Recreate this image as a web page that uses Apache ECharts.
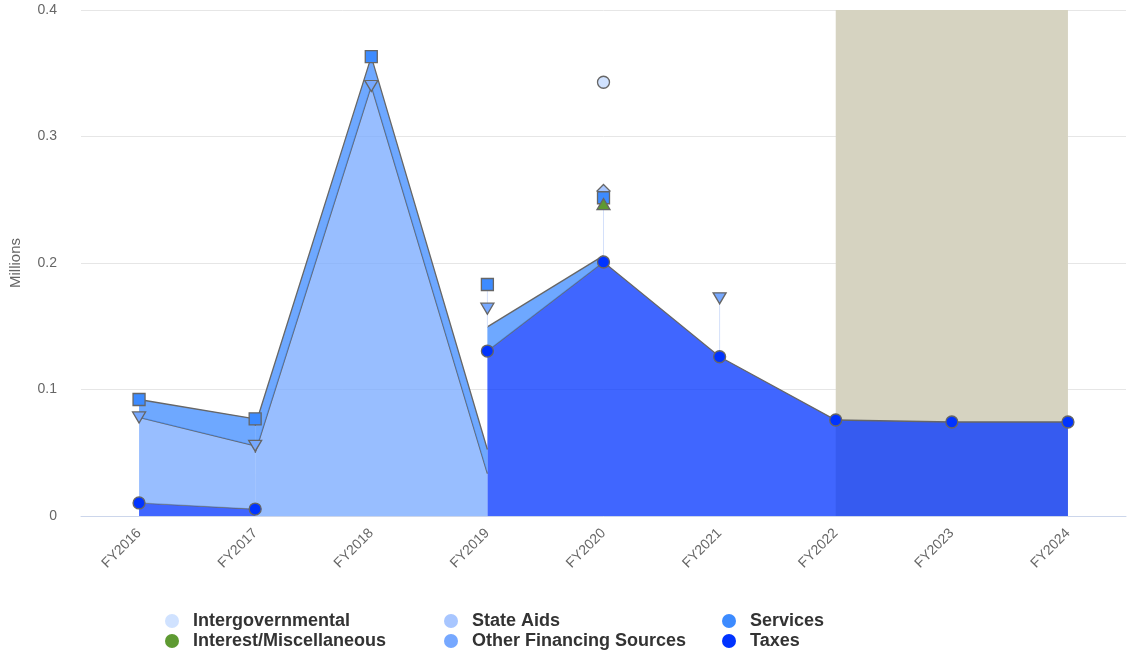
<!DOCTYPE html>
<html>
<head>
<meta charset="utf-8">
<script src="https://cdn.jsdelivr.net/npm/echarts@6/dist/echarts.min.js"></script>
<style>
    html, body { margin: 0; padding: 0; background: #fff; }
    #chart { width: 1127px; height: 656px; }
</style>
</head>
<body>
<div id="chart"></div>
<script>
var years = ['FY2016', 'FY2017', 'FY2018', 'FY2019', 'FY2020', 'FY2021', 'FY2022', 'FY2023', 'FY2024'];

// values in millions
var taxes             = [0.0103, 0.0055, null, 0.1304, 0.2008, 0.1259, 0.0759, 0.0743, 0.0743];
var otherFinancing    = [0.0676, 0.0500, 0.3399, 0.0335, null, 0.0462, null, null, null];
var interestMisc      = [null, null, null, null, 0.0458, null, null, null, null];
var services          = [0.0142, 0.0213, 0.0232, 0.0191, 0.0050, null, null, null, null];
var stateAids         = [null, null, null, null, 0.0053, null, null, null, null];
var intergovernmental = [null, null, null, null, 0.0860, null, null, null, null];

var yTicks = [0, 0.1, 0.2, 0.3, 0.4];
var shadedRange = ['FY2022', 'FY2024'];

// stack order, bottom first
var stackOrder = [
    { name: 'Taxes', data: taxes, color: '#0033ff', symbol: 'circle', size: 12, rotate: 0 },
    { name: 'Other Financing Sources', data: otherFinancing, color: '#76a8ff', symbol: 'triangle', size: [13, 11], rotate: 180 },
    { name: 'Interest/Miscellaneous', data: interestMisc, color: '#5e9a32', symbol: 'triangle', size: [13, 11], rotate: 0 },
    { name: 'Services', data: services, color: '#3d8bff', symbol: 'rect', size: 12, rotate: 0 },
    { name: 'State Aids', data: stateAids, color: '#a8c6ff', symbol: 'diamond', size: [13, 13], rotate: 0 },
    { name: 'Intergovernmental', data: intergovernmental, color: '#d0e2ff', symbol: 'circle', size: 12, rotate: 0 }
];

function has(v) { return v !== null && v !== undefined; }

// area pieces between two neighbouring years; lower series only count when they exist at both ends
function segmentsFor(k) {
    var own = stackOrder[k].data, out = [];
    for (var i = 0; i < years.length - 1; i++) {
        if (!has(own[i]) || !has(own[i + 1])) continue;
        var b0 = 0, b1 = 0;
        for (var j = 0; j < k; j++) {
            var d = stackOrder[j].data;
            if (has(d[i]) && has(d[i + 1])) { b0 += d[i]; b1 += d[i + 1]; }
        }
        out.push([i, b0, b0 + own[i], b1, b1 + own[i + 1]]);
    }
    return out;
}

// join pieces that meet at the same point into one run of [index, bottom, top]
function runsFor(segs) {
    var runs = [], cur = null;
    segs.forEach(function (sg) {
        var last = cur && cur[cur.length - 1];
        if (last && last[0] === sg[0] && Math.abs(last[1] - sg[1]) < 1e-9 && Math.abs(last[2] - sg[2]) < 1e-9) {
            cur.push([sg[0] + 1, sg[3], sg[4]]);
        } else {
            cur = [[sg[0], sg[1], sg[2]], [sg[0] + 1, sg[3], sg[4]]];
            runs.push(cur);
        }
    });
    return runs;
}

function stackedTop(k, i) {
    if (!has(stackOrder[k].data[i])) return null;
    var s = 0;
    for (var j = 0; j <= k; j++) if (has(stackOrder[j].data[i])) s += stackOrder[j].data[i];
    return s;
}

var allSegments = stackOrder.map(function (s, k) { return segmentsFor(k); });
var allRuns = allSegments.map(runsFor);

// thin connector where markers float above the drawn areas
var connectors = [];
years.forEach(function (y, i) {
    var drawn = 0, top = 0;
    allSegments.forEach(function (segs) {
        segs.forEach(function (sg) {
            if (sg[0] === i) drawn = Math.max(drawn, sg[2]);
            if (sg[0] + 1 === i) drawn = Math.max(drawn, sg[4]);
        });
    });
    for (var k = 0; k < stackOrder.length - 1; k++) {
        var t = stackedTop(k, i);
        if (t !== null) top = Math.max(top, t);
    }
    if (top > drawn + 0.001) connectors.push([i, drawn, top]);
});

function areaRenderer(k) {
    var color = stackOrder[k].color;
    return function (params, api) {
        var run = allRuns[k][params.dataIndex];
        var tops = run.map(function (p) { return api.coord([p[0], p[2]]); });
        var bottoms = run.map(function (p) { return api.coord([p[0], p[1]]); }).reverse();
        return {
            type: 'group',
            children: [
                { type: 'polygon', shape: { points: tops.concat(bottoms) }, style: { fill: color, opacity: 0.75 } },
                { type: 'polyline', shape: { points: tops }, style: { stroke: '#666666', lineWidth: 1.3, fill: null } }
            ]
        };
    };
}

var series = [];

// plot band
series.push({
    type: 'line', data: [], z: 1, silent: true,
    markArea: {
        silent: true,
        itemStyle: { color: '#d6d3c1' },
        data: [[{ xAxis: shadedRange[0] }, { xAxis: shadedRange[1] }]]
    }
});

stackOrder.forEach(function (s, k) {
    series.push({
        type: 'custom', name: s.name + ' area', z: 2, silent: true,
        renderItem: areaRenderer(k),
        encode: { x: 0, y: 1 },
        data: allRuns[k].map(function (run) { return [run[0][0], run[0][2]]; })
    });
});

series.push({
    type: 'custom', z: 2, silent: true,
    renderItem: function (params, api) {
        var a = api.coord([api.value(0), api.value(1)]), b = api.coord([api.value(0), api.value(2)]);
        return { type: 'line', shape: { x1: a[0], y1: a[1], x2: b[0], y2: b[1] }, style: { stroke: '#d4e0fa', lineWidth: 1 } };
    },
    encode: { x: 0, y: [1, 2] },
    data: connectors
});

// markers, stacked by the library
stackOrder.forEach(function (s, k) {
    series.push({
        type: 'line', name: s.name, stack: 'total', data: s.data,
        z: 10 - k,
        symbol: s.symbol, symbolSize: s.size, symbolRotate: s.rotate,
        showSymbol: true, showAllSymbol: true,
        lineStyle: { width: 0, opacity: 0 },
        itemStyle: { color: s.color, borderColor: '#666666', borderWidth: 1.3 },
        emphasis: { disabled: true },
        silent: true
    });
});

// legend grid: 3 columns x 2 rows
var legendItems = [
    'Intergovernmental', 'State Aids', 'Services',
    'Interest/Miscellaneous', 'Other Financing Sources', 'Taxes'
];
var legendLefts = [165, 444, 722];
var legendTops = [612, 632];

var chart = echarts.init(document.getElementById('chart'));
chart.setOption({
    animation: false,
    textStyle: { fontFamily: 'Liberation Sans, Arial, sans-serif' },
    grid: { left: 80, right: 1, top: 10, bottom: 140 },
    legend: legendItems.map(function (name, n) {
        return {
            data: [name], left: legendLefts[n % 3], top: legendTops[Math.floor(n / 3)],
            padding: 0, itemWidth: 14, itemHeight: 14, icon: 'circle',
            selectedMode: false,
            itemStyle: { borderWidth: 0 },
            lineStyle: { width: 0 },
            textStyle: { fontSize: 18, fontWeight: 'bold', color: '#333333', padding: [0, 0, 0, 9] }
        };
    }),
    xAxis: {
        type: 'category', data: years, boundaryGap: true,
        axisLine: { lineStyle: { color: '#ccd6eb' } },
        axisTick: { show: false },
        axisLabel: { rotate: 45, fontSize: 14, color: '#666666', margin: 15, interval: 0 },
        splitLine: { show: false }
    },
    yAxis: {
        type: 'value', min: yTicks[0], max: yTicks[yTicks.length - 1], interval: 0.1,
        name: 'Millions', nameLocation: 'middle', nameGap: 58, nameRotate: 90,
        nameTextStyle: { fontSize: 15, color: '#666666' },
        axisLine: { show: false }, axisTick: { show: false },
        axisLabel: { fontSize: 14, color: '#666666', margin: 24, padding: [6, 0, 0, 0] },
        splitLine: { lineStyle: { color: '#e6e6e6' } }
    },
    series: series
});
</script>
</body>
</html>
